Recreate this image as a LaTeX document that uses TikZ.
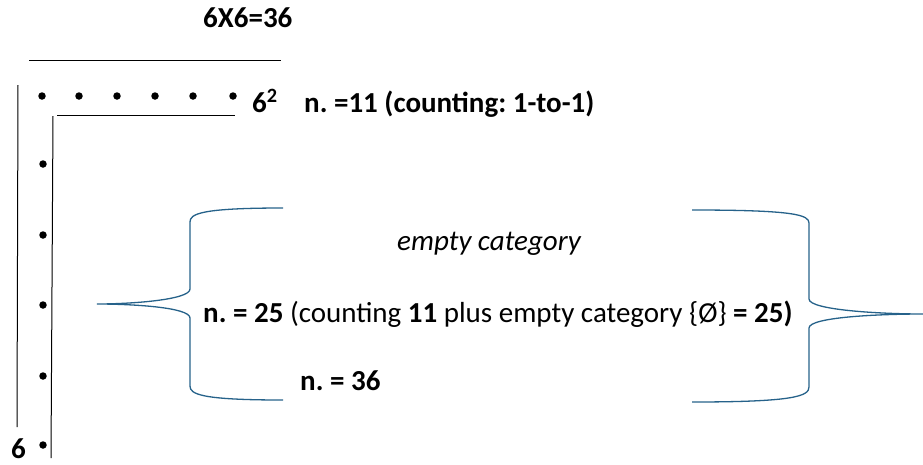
\documentclass[tikz,border=0pt]{standalone}
\usepackage{fontspec}
\setmainfont{Carlito}
\frenchspacing
\begin{document}
\begin{tikzpicture}[x=1pt,y=-1pt,
  dot/.style={circle,fill=black,inner sep=0pt,minimum size=7.5pt},
  rule/.style={draw=black,line width=1pt},
  brace/.style={draw={rgb,255:red,38;green,98;blue,138},line width=1.3pt},
  lbl/.style={inner sep=0pt,anchor=base west,font=\fontsize{29}{33}\selectfont},
  blbl/.style={lbl,font=\fontsize{29}{33}\selectfont\bfseries}]
\useasboundingbox (0,0) rectangle (923,464);
% title
\node[blbl] (title) at (203,27) {6X6=36};
% lines
\draw[rule] (29,60) -- (281,60);
\draw[rule] (18,85) -- (17,427);
\draw[rule] (57,115) -- (235,115);
\draw[rule] (53,116) -- (51,458);
% dots row
\foreach \i/\x in {1/42,2/79,3/117,4/155,5/193,6/233}
  \node[dot] (r\i) at (\x,96) {};
% dots column
\foreach \i/\y in {1/164,2/235,3/305,4/376,5/445}
  \node[dot] (c\i) at (43,\y) {};
% labels
\node[blbl] (sq) at (252,112) {6\textsuperscript{2}};
\node[blbl] (n11) at (304,112) {n. =11 (counting: 1-to-1)};
\node[blbl] (six) at (11,458) {6};
\node[lbl,font=\fontsize{29}{33}\selectfont\itshape] (empty) at (397,250) {empty category};
\node[lbl] (n25) at (203,322) {\textbf{n. = 25} (counting \textbf{11} plus empty category \{Ø\} \textbf{= 25)}};
\node[blbl] (n36) at (300,390) {n. = 36};
% left brace
\coordinate (lt) at (97,304);
\coordinate (ltop) at (283,208);
\coordinate (lbot) at (283,400);
\draw[brace] (ltop) .. controls (200,208) and (190,214) .. (190,222)
  -- (190,289) .. controls (190,300) and (130,304) .. (lt)
  .. controls (130,304) and (190,307) .. (190,318)
  -- (190,386) .. controls (190,394) and (200,400) .. (lbot);
% right brace
\coordinate (rt) at (923,314);
\coordinate (rtop) at (692,210);
\coordinate (rbot) at (692,402);
\draw[brace] (rtop) .. controls (795,210) and (809,215) .. (809,223)
  -- (809,299) .. controls (809,310) and (880,314) .. (rt)
  .. controls (880,314) and (809,317) .. (809,328)
  -- (809,387) .. controls (809,396) and (795,402) .. (rbot);
\end{tikzpicture}
\end{document}
